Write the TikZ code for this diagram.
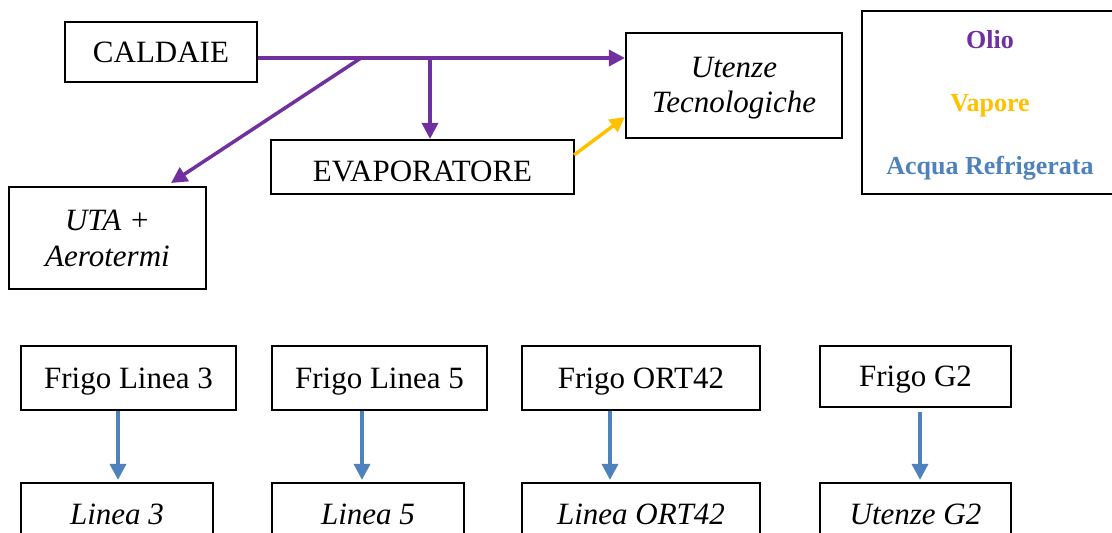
\documentclass[tikz,border=0pt]{standalone}
\usepackage{fontspec}
\setmainfont{Liberation Serif}
\usetikzlibrary{arrows.meta,calc}
\definecolor{olio}{HTML}{7030A0}
\definecolor{vapore}{HTML}{FFC000}
\definecolor{acqua}{HTML}{4F81BD}
\tikzset{
  box/.style={draw=black, line width=2.2pt, inner sep=0pt, align=center,
    font=\fontsize{31}{36}\selectfont},
  one/.style={text height=20.5pt, text depth=0pt},
  legtext/.style={inner sep=0pt, text height=17.5pt, text depth=0pt,
    font=\fontsize{26}{30}\selectfont\bfseries},
  flow/.style={line width=3.5pt, -{Triangle[length=16pt,width=16pt]}},
}
\begin{document}
\begin{tikzpicture}[x=1pt,y=-1pt]
\useasboundingbox (0,0) rectangle (1112,533);
% top nodes
\node[box, one, minimum width=192pt, minimum height=60pt] (cald) at (161,52) {CALDAIE};
\node[box, minimum width=216pt, minimum height=105pt,
  label={[inner sep=0pt, align=center, font=\fontsize{31}{35}\selectfont\itshape, yshift=-3pt]center:Utenze\\Tecnologiche}] (ut) at (734,85.5) {};
\node[box, minimum width=260pt, minimum height=183pt] (leg) at (992,102.5) {};
\node[legtext, text=olio] (lo) at (990,40) {Olio};
\node[legtext, text=vapore] (lv) at (990,103) {Vapore};
\node[legtext, text=acqua] (la) at (990,166) {Acqua Refrigerata};
\node[box, minimum width=303pt, minimum height=54pt, text height=28.5pt, text depth=0pt] (evap) at (422.5,167) {EVAPORATORE};
\node[box, minimum width=197pt, minimum height=102pt] (uta) at (107.5,238) {\itshape UTA +\\\itshape Aerotermi};
% connectors top
\coordinate (src) at ($(cald.east)+(0,6)$);
\coordinate (br1) at (361,58);
\coordinate (br2) at (430,58);
\coordinate (utaend) at (171,183);
\draw[flow, olio] (src) -- (src -| ut.west);
\draw[flow, olio] (br1) -- (utaend);
\draw[flow, olio] (br2) -- (br2 |- evap.north);
\draw[flow, vapore, -{Triangle[length=15pt,width=15pt]}] ($(evap.east)+(-1,-12)$) -- ($(ut.west)+(0,31.5)$);
% bottom nodes
\node[box, one, minimum width=215pt, minimum height=64pt] (fl3) at (128.5,378) {Frigo Linea 3};
\node[box, one, minimum width=215pt, minimum height=64pt] (fl5) at (379.5,378) {Frigo Linea 5};
\node[box, one, minimum width=238pt, minimum height=64pt] (fort) at (641,378) {Frigo ORT42};
\node[box, one, minimum width=191pt, minimum height=61pt] (fg2) at (915.5,376.5) {Frigo G2};
\node[box, one, minimum width=192pt, minimum height=62pt] (l3) at (117,514) {\itshape Linea 3};
\node[box, one, minimum width=192pt, minimum height=62pt] (l5) at (368,514) {\itshape Linea 5};
\node[box, one, minimum width=238pt, minimum height=62pt] (lort) at (641,514) {\itshape Linea ORT42};
\node[box, one, minimum width=191pt, minimum height=62pt] (ug2) at (915.5,514) {\itshape Utenze G2};
% blue connectors
\coordinate (a1) at (118,0);
\coordinate (a2) at (362,0);
\coordinate (a3) at (610,0);
\coordinate (a4) at (920,0);
\draw[flow, acqua] (a1 |- fl3.south) -- ($(a1 |- l3.north)+(0,-2)$);
\draw[flow, acqua] (a2 |- fl5.south) -- ($(a2 |- l5.north)+(0,-2)$);
\draw[flow, acqua] (a3 |- fort.south) -- ($(a3 |- lort.north)+(0,-2)$);
\draw[flow, acqua] ($(a4 |- fg2.south)+(0,4)$) -- ($(a4 |- ug2.north)+(0,-2)$);
\end{tikzpicture}
\end{document}
